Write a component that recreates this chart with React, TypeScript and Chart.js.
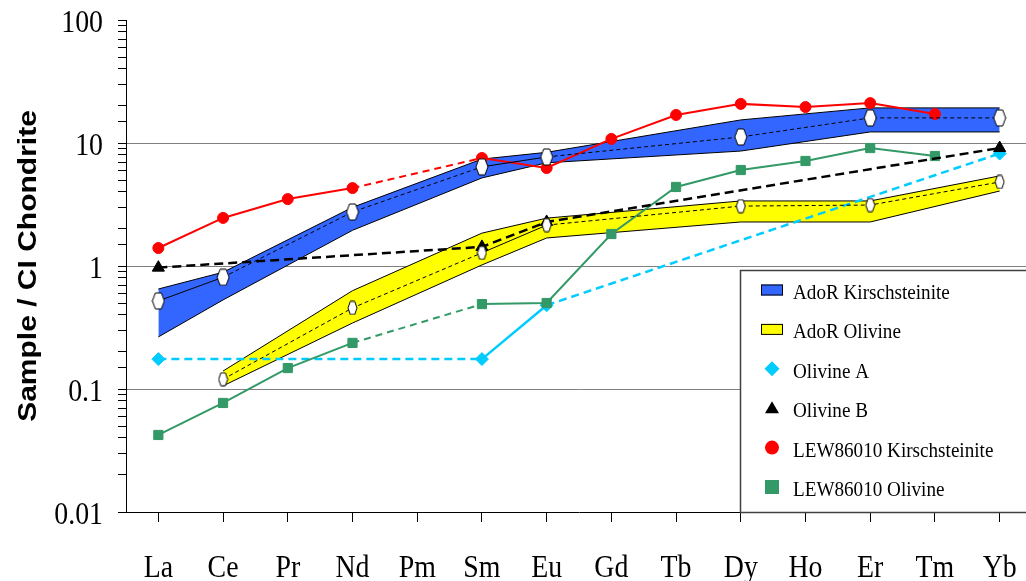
import React, { useEffect, useRef } from 'react';
import { Chart, registerables } from 'chart.js';

Chart.register(...registerables);

// ---- data ----
const elements = ['La', 'Ce', 'Pr', 'Nd', 'Pm', 'Sm', 'Eu', 'Gd', 'Tb', 'Dy', 'Ho', 'Er', 'Tm', 'Yb'];
const yTickValues = [100, 10, 1, 0.1, 0.01];
const yTickLabels = ['100', '10', '1', '0.1', '0.01'];
const yTitle = 'Sample / CI Chondrite';
const legendLabels = [
  'AdoR Kirschsteinite',
  'AdoR Olivine',
  'Olivine A',
  'Olivine B',
  'LEW86010 Kirschsteinite',
  'LEW86010 Olivine',
];

const adorKirMean = [0.52, 0.81, null, 2.75, null, 6.4, 7.7, null, null, 11.2, null, 16.0, null, 16.0];
const adorKirHigh = [0.65, 0.89, null, 3.0, null, 7.4, 8.4, null, null, 15.4, null, 19.3, null, 19.3];
const adorKirLow = [0.265, 0.53, null, 1.95, null, 5.2, 6.9, null, null, 8.6, null, 12.3, null, 12.3];

const adorOlMean = [null, 0.12, null, 0.456, null, 1.28, 2.15, null, null, 3.07, null, 3.13, null, 4.82];
const adorOlHigh = [null, 0.14, null, 0.63, null, 1.85, 2.45, null, null, 3.38, null, 3.38, null, 5.4];
const adorOlLow = [null, 0.106, null, 0.344, null, 1.02, 1.69, null, null, 2.28, null, 2.28, null, 4.07];

const olivineA = [0.175, null, null, null, null, 0.175, 0.48, null, null, null, null, null, null, 8.2];
const olivineB = [0.97, null, null, null, null, 1.43, 2.28, null, null, null, null, null, null, 9.1];
const lewKir = [1.4, 2.46, 3.5, 4.3, null, 7.55, 6.26, 10.8, 16.9, 20.8, 19.6, 21.1, 17.2, null];
const lewOl = [0.0423, 0.077, 0.148, 0.237, null, 0.49, 0.5, 1.82, 4.39, 6.03, 7.14, 9.1, 7.84, null];

// ---- helpers ----
function toPoints(arr: (number | null)[]) {
  const out: { x: number; y: number }[] = [];
  arr.forEach((v, i) => {
    if (v !== null && v !== undefined) out.push({ x: i, y: v });
  });
  return out;
}

function hexagon(w: number, h: number) {
  const c = document.createElement('canvas');
  c.width = w + 2;
  c.height = h + 2;
  const g = c.getContext('2d')!;
  const cx = (w + 2) / 2;
  const cy = (h + 2) / 2;
  g.beginPath();
  g.moveTo(cx - w / 2, cy);
  g.lineTo(cx - w / 4, cy - h / 2);
  g.lineTo(cx + w / 4, cy - h / 2);
  g.lineTo(cx + w / 2, cy);
  g.lineTo(cx + w / 4, cy + h / 2);
  g.lineTo(cx - w / 4, cy + h / 2);
  g.closePath();
  g.fillStyle = '#ffffff';
  g.fill();
  g.strokeStyle = '#000000';
  g.lineWidth = 1;
  g.stroke();
  return c;
}

const gapDash = (dash: number[]) => ({
  borderDash: (ctx: any) => (ctx.p1.parsed.x - ctx.p0.parsed.x > 1 ? dash : []),
});

const BLUE = '#3366FF';
const YELLOW = '#FFFF00';
const CYAN = '#00CCFF';
const RED = '#FF0000';
const GREEN = '#339966';

const TEXT_SX = 0.87;

const textPlugin = {
  id: 'customText',
  afterDraw(chart: any) {
    const ctx = chart.ctx as CanvasRenderingContext2D;
    const xs = chart.scales.x;
    const ys = chart.scales.y;
    ctx.save();
    ctx.fillStyle = '#000';

    // x labels
    ctx.font = '32px "Liberation Serif"';
    ctx.textAlign = 'center';
    ctx.textBaseline = 'alphabetic';
    elements.forEach((lab, i) => {
      ctx.save();
      ctx.translate(xs.getPixelForValue(i), 577);
      ctx.scale(TEXT_SX, 1);
      ctx.fillText(lab, 0, 0);
      ctx.restore();
    });

    // y labels
    ctx.textAlign = 'right';
    yTickValues.forEach((v, k) => {
      ctx.save();
      ctx.translate(103, ys.getPixelForValue(v) + 12);
      ctx.scale(TEXT_SX, 1);
      ctx.fillText(yTickLabels[k], 0, 0);
      ctx.restore();
    });

    // y title
    ctx.save();
    ctx.translate(29, (ys.top + ys.bottom) / 2);
    ctx.rotate(-Math.PI / 2);
    ctx.scale(1, TEXT_SX);
    ctx.font = 'bold 30px "Liberation Sans"';
    ctx.textAlign = 'center';
    ctx.textBaseline = 'middle';
    ctx.fillText(yTitle, 0, 0);
    ctx.restore();

    // legend box
    const lx = 740;
    const ly = 270;
    ctx.fillStyle = '#ffffff';
    ctx.fillRect(lx, ly, 320, 242);
    ctx.strokeStyle = '#404040';
    ctx.lineWidth = 1.5;
    ctx.strokeRect(lx + 0.5, ly + 0.5, 320, 242);

    const sx = 772;
    legendLabels.forEach((lab, i) => {
      const cy = 290 + i * 39.4;
      ctx.save();
      ctx.lineWidth = 1;
      if (i === 0 || i === 1) {
        ctx.fillStyle = i === 0 ? BLUE : YELLOW;
        ctx.strokeStyle = '#000';
        ctx.fillRect(sx - 11, cy - 5.5, 22, 11);
        ctx.strokeRect(sx - 11 + 0.5, cy - 5.5 + 0.5, 21, 10);
      } else if (i === 2) {
        ctx.fillStyle = CYAN;
        ctx.beginPath();
        ctx.moveTo(sx, cy - 7.5);
        ctx.lineTo(sx + 7.5, cy);
        ctx.lineTo(sx, cy + 7.5);
        ctx.lineTo(sx - 7.5, cy);
        ctx.closePath();
        ctx.fill();
      } else if (i === 3) {
        ctx.fillStyle = '#000';
        ctx.beginPath();
        ctx.moveTo(sx, cy - 7);
        ctx.lineTo(sx + 7, cy + 5);
        ctx.lineTo(sx - 7, cy + 5);
        ctx.closePath();
        ctx.fill();
      } else if (i === 4) {
        ctx.fillStyle = RED;
        ctx.beginPath();
        ctx.arc(sx, cy, 7, 0, Math.PI * 2);
        ctx.fill();
      } else {
        ctx.fillStyle = GREEN;
        ctx.fillRect(sx - 7, cy - 7, 14, 14);
      }
      ctx.restore();

      ctx.save();
      ctx.fillStyle = '#000';
      ctx.font = '22px "Liberation Serif"';
      ctx.textAlign = 'left';
      ctx.textBaseline = 'alphabetic';
      ctx.translate(793, cy + 9);
      ctx.scale(TEXT_SX, 1);
      ctx.fillText(lab, 0, 0);
      ctx.restore();
    });

    ctx.restore();
  },
};

function isMajorDecade(v: number) {
  if (!(v > 0)) return false;
  const l = Math.log10(v);
  return Math.abs(l - Math.round(l)) < 1e-6 && v > 0.05 && v < 50;
}

export default function App() {
  const canvasRef = useRef<HTMLCanvasElement | null>(null);

  useEffect(() => {
    const canvas = canvasRef.current;
    if (!canvas) return;
    const hexBlue = hexagon(12, 16);
    const hexYellow = hexagon(9, 13);

    const bandLine = {
      borderColor: '#000',
      borderWidth: 1,
      pointRadius: 0,
      tension: 0,
    };

    const chart = new Chart(canvas, {
      type: 'line',
      data: {
        datasets: [
          // Blue band
          {
            label: 'AdoR Kirschsteinite high',
            data: toPoints(adorKirHigh),
            ...bandLine,
            backgroundColor: BLUE,
            fill: '+1',
            order: 20,
          },
          {
            label: 'AdoR Kirschsteinite low',
            data: toPoints(adorKirLow),
            ...bandLine,
            fill: false,
            order: 19,
          },
          // Yellow band
          {
            label: 'AdoR Olivine high',
            data: toPoints(adorOlHigh),
            ...bandLine,
            backgroundColor: YELLOW,
            fill: '+1',
            order: 18,
          },
          {
            label: 'AdoR Olivine low',
            data: toPoints(adorOlLow),
            ...bandLine,
            fill: false,
            order: 17,
          },
          // Olivine A
          {
            label: 'Olivine A',
            data: toPoints(olivineA),
            borderColor: CYAN,
            borderWidth: 2.5,
            pointStyle: 'rectRot',
            pointRadius: 6.5,
            pointBackgroundColor: CYAN,
            pointBorderColor: CYAN,
            pointBorderWidth: 1,
            fill: false,
            segment: gapDash([8, 5]),
            order: 8,
          },
          // LEW86010 Olivine
          {
            label: 'LEW86010 Olivine',
            data: toPoints(lewOl),
            borderColor: GREEN,
            borderWidth: 2,
            pointStyle: 'rect',
            pointRadius: 6.5,
            pointBackgroundColor: GREEN,
            pointBorderColor: GREEN,
            pointBorderWidth: 1,
            fill: false,
            segment: gapDash([7, 5]),
            order: 7,
          },
          // Olivine B
          {
            label: 'Olivine B',
            data: toPoints(olivineB),
            borderColor: '#000',
            borderWidth: 2.5,
            borderDash: [9, 5],
            pointStyle: 'triangle',
            pointRadius: 7,
            pointBackgroundColor: '#000',
            pointBorderColor: '#000',
            pointBorderWidth: 1,
            fill: false,
            order: 6,
          },
          // LEW86010 Kirschsteinite
          {
            label: 'LEW86010 Kirschsteinite',
            data: toPoints(lewKir),
            borderColor: RED,
            borderWidth: 2,
            pointStyle: 'circle',
            pointRadius: 5.5,
            pointBackgroundColor: RED,
            pointBorderColor: RED,
            pointBorderWidth: 1,
            fill: false,
            segment: gapDash([7, 5]),
            order: 5,
          },
          // Means
          {
            label: 'AdoR Olivine',
            data: toPoints(adorOlMean),
            borderColor: '#000',
            borderWidth: 1,
            pointStyle: hexYellow,
            pointRadius: 5,
            fill: false,
            segment: gapDash([4, 3]),
            order: 2,
          },
          {
            label: 'AdoR Kirschsteinite',
            data: toPoints(adorKirMean),
            borderColor: '#000',
            borderWidth: 1,
            pointStyle: hexBlue,
            pointRadius: 6,
            fill: false,
            segment: gapDash([4, 3]),
            order: 1,
          },
        ] as any,
      },
      options: {
        animation: false,
        responsive: false,
        devicePixelRatio: 1,
        layout: { padding: { top: 20, right: 3, left: 0, bottom: 0 } },
        plugins: {
          legend: { display: false },
          tooltip: { enabled: false },
          title: { display: false },
        },
        elements: { line: { tension: 0 } },
        scales: {
          x: {
            type: 'linear',
            min: -0.5,
            max: 13.5,
            afterFit: (s: any) => {
              s.height = 69;
            },
            afterBuildTicks: (s: any) => {
              s.ticks = elements.map((_, i) => ({ value: i }));
            },
            ticks: { display: false, stepSize: 1, includeBounds: false, autoSkip: false },
            grid: {
              display: true,
              drawOnChartArea: false,
              drawTicks: true,
              tickLength: 10,
              tickColor: '#000',
              color: '#000',
            },
            border: { display: true, color: '#000', width: 1 },
          },
          y: {
            type: 'logarithmic',
            min: 0.01,
            max: 100,
            afterFit: (s: any) => {
              s.width = 126;
            },
            ticks: { display: false, autoSkip: false },
            grid: {
              display: true,
              drawOnChartArea: true,
              drawTicks: true,
              tickLength: 8,
              tickColor: '#000',
              color: (c: any) => (c.tick && isMajorDecade(c.tick.value) ? '#808080' : 'rgba(0,0,0,0)'),
            },
            border: { display: true, color: '#000', width: 1 },
          },
        },
      } as any,
      plugins: [textPlugin],
    });

    return () => {
      chart.destroy();
    };
  }, []);

  return (
    <div
      style={{
        position: 'fixed',
        left: 0,
        top: 0,
        width: 1026,
        height: 581,
        overflow: 'hidden',
        background: '#ffffff',
      }}
    >
      <canvas ref={canvasRef} width={1040} height={581} style={{ width: 1040, height: 581, display: 'block' }} />
    </div>
  );
}
